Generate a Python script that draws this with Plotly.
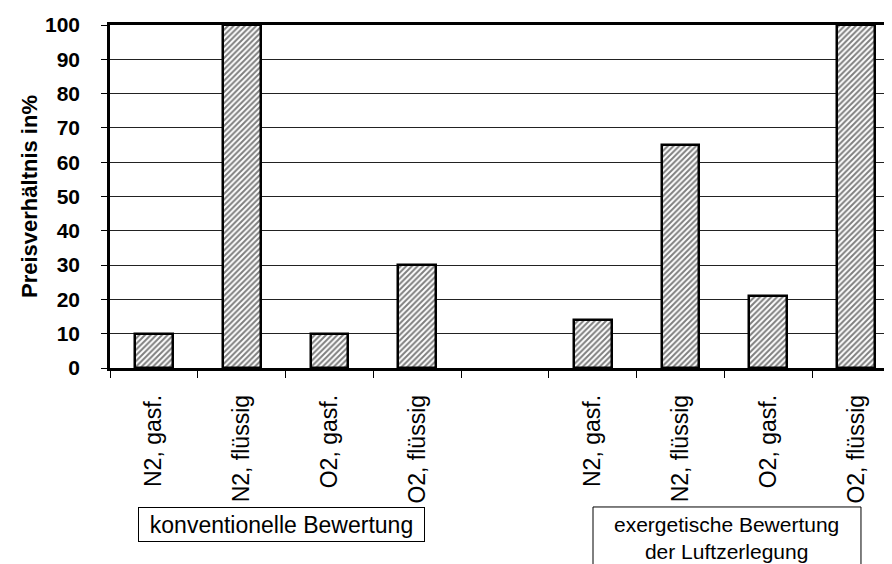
import plotly.graph_objects as go

positions = [0, 1, 2, 3, 5, 6, 7, 8]
values = [10, 100, 10, 30, 14, 65, 21, 100]
tick_positions = [0, 1, 2, 3, 4, 5, 6, 7, 8]
tick_labels = ["N2, gasf.", "N2, flüssig", "O2, gasf.", "O2, flüssig", "",
               "N2, gasf.", "N2, flüssig", "O2, gasf.", "O2, flüssig"]
boundaries = [i - 0.5 for i in range(10)]
y_ticks = list(range(0, 101, 10))
group1_label = "konventionelle Bewertung"
group2_label = "exergetische Bewertung<br>der Luftzerlegung"

FONT = "Liberation Sans, Arial, sans-serif"

fig = go.Figure(
    go.Bar(
        x=positions,
        y=values,
        width=0.43,
        marker=dict(
            color="white",
            line=dict(color="black", width=2.5),
            pattern=dict(shape="/", size=4, solidity=0.5, fgcolor="black", bgcolor="white"),
        ),
        showlegend=False,
    )
)

fig.update_layout(
    width=892,
    height=564,
    margin=dict(l=102, r=0, t=17, b=204),
    paper_bgcolor="white",
    plot_bgcolor="white",
    font=dict(family=FONT, color="black"),
    bargap=0,
    xaxis=dict(
        range=[-0.5, 8.5],
        tickmode="array",
        tickvals=tick_positions,
        ticktext=tick_labels,
        tickangle=-90,
        ticks="",
        ticklabelstandoff=15,
        tickfont=dict(size=23, family=FONT),
        showline=True,
        linecolor="black",
        linewidth=2.5,
        mirror=True,
        showgrid=False,
        zeroline=False,
        automargin=False,
        minor=dict(tickmode="array", tickvals=boundaries, ticks="outside", ticklen=7,
                   tickwidth=1, tickcolor="black", showgrid=False),
    ),
    xaxis2=dict(
        overlaying="x", matches="x", anchor="y", side="bottom",
        tickmode="array", tickvals=boundaries, ticks="inside", ticklen=7,
        tickwidth=1, tickcolor="black", showticklabels=False,
        showgrid=False, showline=False, zeroline=False,
    ),
    yaxis=dict(
        range=[0, 100],
        tickmode="array",
        tickvals=y_ticks,
        ticks="outside",
        ticklen=6,
        tickcolor="black",
        ticklabelstandoff=17,
        tickfont=dict(size=21, family=FONT, weight="bold"),
        showline=True,
        linecolor="black",
        linewidth=2.5,
        showgrid=True,
        gridcolor="#222222",
        gridwidth=1,
        zeroline=False,
        automargin=False,
        title=dict(text="Preisverhältnis in%", font=dict(size=22, family=FONT, weight="bold"), standoff=2),
    ),
)

# Box 1
fig.add_annotation(
    x=0.2165, y=-0.4563, xref="paper", yref="paper",
    text=group1_label, showarrow=False,
    font=dict(size=23, family=FONT),
    bordercolor="black", borderwidth=1, borderpad=0,
    width=285, height=33, align="center", valign="middle",
    xanchor="center", yanchor="middle",
)

# Box 2 (open at the bottom, runs off the page)
fig.add_shape(
    type="path", xref="paper", yref="paper",
    path="M 0.6114 -0.75 L 0.6114 -0.4052 L 0.9506 -0.4052 L 0.9506 -0.75",
    line=dict(color="black", width=1),
)
fig.add_annotation(
    x=0.781, y=-0.4052, xref="paper", yref="paper",
    text=group2_label, showarrow=False,
    font=dict(size=21, family=FONT), align="center",
    xanchor="center", yanchor="top", yshift=-4,
)

fig.write_html("out.html")
